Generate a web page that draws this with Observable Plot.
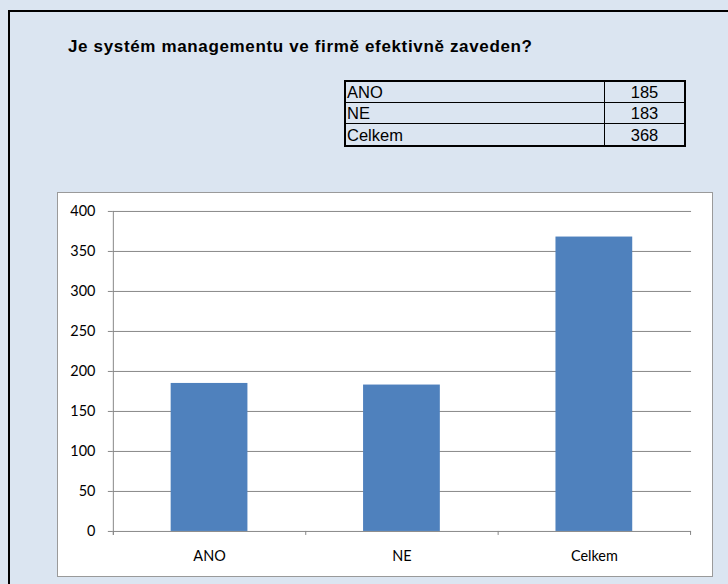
<!DOCTYPE html>
<html>
<head>
<meta charset="utf-8">
<script src="https://cdn.jsdelivr.net/npm/d3@7"></script>
<script src="https://cdn.jsdelivr.net/npm/@observablehq/plot@0.6"></script>
<style>
  html, body { margin: 0; padding: 0; }
  body { width: 728px; height: 584px; background: #dbe5f1; position: relative; overflow: hidden; font-family: "Liberation Sans", Arial, sans-serif; }
  #frame { position: absolute; left: 8px; top: 10px; width: 900px; height: 800px; border-left: 2px solid #000; border-top: 2px solid #000; }
  #title { position: absolute; left: 68px; top: 37px; font-size: 17px; font-weight: bold; color: #000; white-space: nowrap; letter-spacing: 0.65px; }
  #tbl { position: absolute; left: 344px; top: 80px; border-collapse: collapse; border: 2px solid #000; font-size: 16.5px; }
  #tbl td { border: 1px solid #000; padding: 0 1px; height: 20px; line-height: 20px; }
  #tbl tr:last-child td { height: 21px; }
  #tbl td.lab { width: 256px; text-align: left; }
  #tbl td.val { width: 77px; text-align: center; }
  #chart { position: absolute; left: 57px; top: 192px; width: 654px; height: 383px; background: #fff; border: 1px solid #9a9a9a; }
  #chart svg { position: absolute; left: -1px; top: -1px; }
</style>
</head>
<body>
<div id="frame"></div>
<div id="title">Je systém managementu ve firmě efektivně zaveden?</div>
<table id="tbl"></table>
<div id="chart"></div>
<script>
const categories = ["ANO", "NE", "Celkem"];
const values = [185, 183, 368];
const yTicks = [0, 50, 100, 150, 200, 250, 300, 350, 400];

const data = categories.map((c, i) => ({category: c, value: values[i]}));

// table
const tbl = document.getElementById("tbl");
data.forEach(d => {
  const tr = document.createElement("tr");
  const a = document.createElement("td"); a.className = "lab"; a.textContent = d.category;
  const b = document.createElement("td"); b.className = "val"; b.textContent = d.value;
  tr.appendChild(a); tr.appendChild(b); tbl.appendChild(tr);
});

const gridColor = "#878787";
const pInner = 0.6, pOuter = 0.3;

const plot = Plot.plot({
  width: 656,
  height: 385,
  marginLeft: 56,
  marginRight: 20,
  marginTop: 19,
  marginBottom: 45,
  style: {background: "transparent", fontFamily: "Lato, 'Open Sans', sans-serif", fontSize: "14.5px", color: "#000"},
  x: {domain: categories, paddingInner: pInner, paddingOuter: pOuter, label: null},
  y: {domain: [0, 400], label: null},
  marks: [
    Plot.gridY(yTicks, {stroke: gridColor, strokeOpacity: 1, strokeWidth: 1}),
    Plot.barY(data, {x: "category", y: "value", fill: "#4f81bd"}),
    Plot.axisY(yTicks, {tickSize: 5, tickPadding: 13, stroke: gridColor, fill: "#000", tickFormat: d => String(d)}),
    Plot.axisX({tickSize: 0, tickPadding: 19, fill: "#000"}),
    // axis line and category boundary ticks
    (index, scales, values, dims) => {
      const g = d3.create("svg:g").attr("stroke", gridColor).attr("stroke-width", 1);
      const x = scales.x, y = scales.y;
      const step = x.step ? x.step() : (dims.width - dims.marginLeft - dims.marginRight) / categories.length;
      const y0 = y(0), yTop = y(400);
      g.append("line").attr("x1", dims.marginLeft + 0.5).attr("x2", dims.marginLeft + 0.5).attr("y1", yTop).attr("y2", y0 + 4);
      const bw = x.bandwidth();
      const bounds = categories.map(c => x(c) + bw / 2 - step / 2);
      bounds.push(x(categories[categories.length - 1]) + bw / 2 + step / 2);
      bounds.forEach(b => {
        g.append("line").attr("x1", Math.round(b) + 0.5).attr("x2", Math.round(b) + 0.5).attr("y1", y0).attr("y2", y0 + 4);
      });
      return g.node();
    }
  ]
});
document.getElementById("chart").appendChild(plot);
</script>
</body>
</html>
